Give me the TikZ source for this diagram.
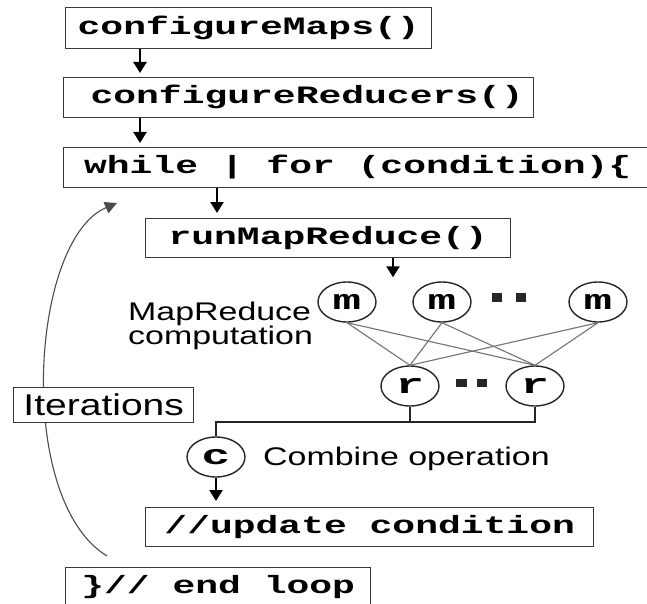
\documentclass[tikz,border=0pt]{standalone}
\usepackage{fontspec}
\setmainfont{Liberation Sans}
\newfontfamily\codefont{Liberation Mono}[FakeStretch=1.52]
\newfontfamily\letterfont{Liberation Mono}[FakeStretch=1.7]
\newfontfamily\labelfont{Liberation Sans}[FakeStretch=1.33]
\newfontfamily\iterfont{Liberation Sans}[FakeStretch=1.3]
\usetikzlibrary{arrows.meta,shapes.geometric}

\begin{document}
\begin{tikzpicture}[x=1pt,y=-1pt,
  box/.style={draw=black!78, line width=1.4pt, fill=white, anchor=north west,
    inner sep=0pt, text height=19pt, text depth=7pt,
    font={\codefont\bfseries\fontsize{25pt}{25pt}\selectfont}},
  task/.style={draw=black!85, line width=1.4pt, fill=white, ellipse, inner sep=0pt,
    minimum width=58pt, minimum height=40pt,
    font={\letterfont\bfseries\fontsize{28pt}{28pt}\selectfont}},
  iterbox/.style={draw=black!78, line width=1.4pt, fill=white, anchor=north west,
    inner sep=0pt, minimum width=180pt, minimum height=35pt,
    font={\iterfont\fontsize{30pt}{30pt}\selectfont}},
  note/.style={inner sep=0pt, font={\labelfont\fontsize{25.5pt}{23.5pt}\selectfont}},
  mesh/.style={draw=black!55, line width=1.1pt},
  link/.style={draw=black!85, line width=1.5pt},
  flow/.style={draw=black, line width=2.4pt, -{Triangle[width=13pt,length=11pt]}},
  loopback/.style={draw=black!70, line width=1.1pt, -{Triangle[width=12pt,length=12pt]}},
  dot/.style={fill=black!85}
]
\useasboundingbox (0,0) rectangle (647,604);
\fill[white] (0,0) rectangle (647,604);
\clip (0,0) rectangle (647,604);

% loop-back curve, drawn first so the Iterations box sits on top of it
\coordinate (lb0) at (107,556);
\coordinate (lb1) at (117,203);
\draw[loopback] (lb0) .. controls (15,500) and (30,240) .. (lb1);
\node[iterbox] (iter) at (13,387) {Iterations};

% code boxes
\node[box, minimum width=366pt, minimum height=41pt] (cmaps) at (65,7) {configureMaps()};
\node[box, minimum width=470pt, minimum height=40pt] (creds) at (63,77) {\hspace*{17pt}configureReducers()};
\node[box, minimum width=588pt, minimum height=40pt] (loop) at (63,147) {while | for (condition)\{};
\node[box, minimum width=365pt, minimum height=39pt] (runmr) at (145,218) {runMapReduce()};
\node[box, minimum width=448pt, minimum height=39pt] (upd) at (145,507) {//update condition};
\node[box, minimum width=305pt, minimum height=40pt] (endl) at (65,567) {\}// end loop};

% map, reduce and combine tasks
\node[task] (m1) at (347,302) {m};
\node[task] (m2) at (442,302) {m};
\node[task] (m3) at (598,302) {m};
\node[task] (r1) at (410,386) {r};
\node[task] (r2) at (535,386) {r};
\node[task] (c) at (216,457) {c};

% ellipsis marks between tasks
\fill[dot] (492,293) rectangle (502,302);
\fill[dot] (516,293) rectangle (526,302);
\fill[dot] (456,379) rectangle (467,387);
\fill[dot] (477,379) rectangle (487,387);

% labels
\node[note, align=left, anchor=north west] (mrlabel) at (128,301.5) {MapReduce\\computation};
\node[note, anchor=base west] (comb) at (263,465) {Combine operation};

% control flow arrows
\coordinate (k1) at (140,0);
\coordinate (k2) at (217,0);
\coordinate (k3) at (393,0);
\draw[flow, shorten >=4pt] (cmaps.south -| k1) -- (creds.north -| k1);
\draw[flow, shorten >=4pt] (creds.south -| k1) -- (loop.north -| k1);
\draw[flow, shorten >=5pt] (loop.south -| k2) -- (runmr.north -| k2);
\draw[flow, shorten >=4pt] (runmr.south -| k3) -- (m1.north -| k3);

% shuffle between maps and reducers
\foreach \a in {m1,m2,m3}
  \foreach \b in {r1,r2}
    \draw[mesh] (\a.south) -- (\b.north);

% reducers into the combine step
\coordinate (jn) at (0,422);
\draw[link] (r1.south) -- (r1.south |- jn);
\draw[link] (r2.south) -- (r2.south |- jn) -- (c.north |- jn) -- (c.north);
\draw[flow, shorten >=6pt] (c.south) -- (upd.north -| c.south);
\end{tikzpicture}
\end{document}
